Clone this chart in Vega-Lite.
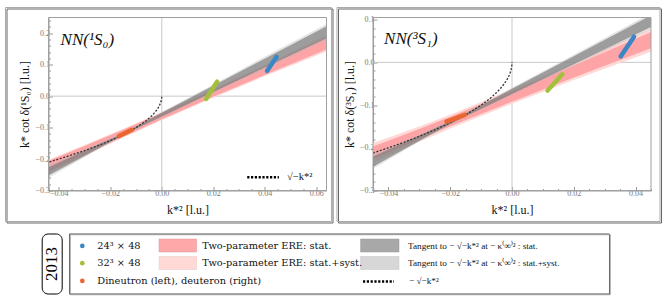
{
  "$schema": "https://vega.github.io/schema/vega-lite/v6.json",
  "padding": {"left": 4.5, "top": 6.5, "right": 0, "bottom": 0},
  "background": "white",
  "config": {
    "font": "Liberation Serif",
    "view": {"stroke": null},
    "axis": {"labelFont": "Liberation Serif", "titleFont": "Liberation Serif", "titleFontWeight": "normal", "grid": false, "zindex": 1, "domainColor": "#999", "tickColor": "#999", "labelColor": "#777", "labelFontSize": 8, "titleFontSize": 12, "titleColor": "#111", "labelOverlap": false, "labelFlush": false}
  },
  "datasets": {
    "L_frame": [
      {"k": "shadow", "x": -0.06012, "x2": 0.06653, "y": -0.40331, "y2": 0.27702},
      {"k": "frame", "x": -0.060705, "x2": 0.06594, "y": -0.39855, "y2": 0.28179},
      {"k": "plot", "x": -0.044, "x2": 0.064, "y": -0.3, "y2": 0.25}
    ],
    "R_frame": [
      {"k": "shadow", "x": -0.056169, "x2": 0.0484, "y": -0.37607, "y2": 0.1249},
      {"k": "frame", "x": -0.056655, "x2": 0.047914, "y": -0.37256, "y2": 0.12841},
      {"k": "plot", "x": -0.045, "x2": 0.045, "y": -0.3, "y2": 0.105}
    ],
    "L_zero": [
      {"x": 0, "y": -0.3, "y2": 0.25},
      {"x": -0.044, "x2": 0.064, "y": 0}
    ],
    "R_zero": [
      {"x": 0, "y": -0.3, "y2": 0.105},
      {"x": -0.045, "x2": 0.045, "y": 0}
    ],
    "L_bands": [
      {"b": "pinkL", "x": -0.044, "y": -0.244, "y2": -0.202},
      {"b": "pinkL", "x": -0.03, "y": -0.1893, "y2": -0.1553},
      {"b": "pinkL", "x": -0.0146, "y": -0.1306, "y2": -0.1026},
      {"b": "pinkL", "x": 0, "y": -0.0767, "y2": -0.0507},
      {"b": "pinkL", "x": 0.02, "y": -0.0053, "y2": 0.0227},
      {"b": "pinkL", "x": 0.04, "y": 0.0631, "y2": 0.0991},
      {"b": "pinkL", "x": 0.064, "y": 0.142, "y2": 0.194},
      {"b": "pinkS", "x": -0.044, "y": -0.240, "y2": -0.206},
      {"b": "pinkS", "x": -0.03, "y": -0.1863, "y2": -0.1583},
      {"b": "pinkS", "x": -0.0146, "y": -0.1276, "y2": -0.1056},
      {"b": "pinkS", "x": 0, "y": -0.0737, "y2": -0.0537},
      {"b": "pinkS", "x": 0.02, "y": -0.0023, "y2": 0.0197},
      {"b": "pinkS", "x": 0.04, "y": 0.0671, "y2": 0.0951},
      {"b": "pinkS", "x": 0.064, "y": 0.148, "y2": 0.188},
      {"b": "grayL", "x": -0.044, "y": -0.2594, "y2": -0.2194},
      {"b": "grayL", "x": -0.03, "y": -0.194, "y2": -0.170},
      {"b": "grayL", "x": -0.0149, "y": -0.1246, "y2": -0.1156},
      {"b": "grayL", "x": 0, "y": -0.0675, "y2": -0.0505},
      {"b": "grayL", "x": 0.02, "y": 0.009, "y2": 0.037},
      {"b": "grayL", "x": 0.04, "y": 0.085, "y2": 0.125},
      {"b": "grayL", "x": 0.064, "y": 0.1774, "y2": 0.2294},
      {"b": "grayS", "x": -0.044, "y": -0.2524, "y2": -0.2264},
      {"b": "grayS", "x": -0.03, "y": -0.19, "y2": -0.174},
      {"b": "grayS", "x": -0.0149, "y": -0.1226, "y2": -0.1176},
      {"b": "grayS", "x": 0, "y": -0.065, "y2": -0.053},
      {"b": "grayS", "x": 0.02, "y": 0.013, "y2": 0.033},
      {"b": "grayS", "x": 0.04, "y": 0.091, "y2": 0.119},
      {"b": "grayS", "x": 0.064, "y": 0.1844, "y2": 0.2224}
    ],
    "R_bands": [
      {"b": "pinkL", "x": -0.045, "y": -0.2349, "y2": -0.1889},
      {"b": "pinkL", "x": -0.03, "y": -0.1859, "y2": -0.1499},
      {"b": "pinkL", "x": -0.0188, "y": -0.1511, "y2": -0.1191},
      {"b": "pinkL", "x": 0, "y": -0.097, "y2": -0.063},
      {"b": "pinkL", "x": 0.02, "y": -0.0414, "y2": -0.0014},
      {"b": "pinkL", "x": 0.045, "y": 0.0249, "y2": 0.0789},
      {"b": "pinkS", "x": -0.045, "y": -0.2269, "y2": -0.1969},
      {"b": "pinkS", "x": -0.03, "y": -0.1799, "y2": -0.1559},
      {"b": "pinkS", "x": -0.0188, "y": -0.1461, "y2": -0.1241},
      {"b": "pinkS", "x": 0, "y": -0.092, "y2": -0.068},
      {"b": "pinkS", "x": 0.02, "y": -0.0354, "y2": -0.0074},
      {"b": "pinkS", "x": 0.045, "y": 0.0329, "y2": 0.0709},
      {"b": "grayL", "x": -0.045, "y": -0.2493, "y2": -0.2153},
      {"b": "grayL", "x": -0.03, "y": -0.1855, "y2": -0.1695},
      {"b": "grayL", "x": -0.0188, "y": -0.1406, "y2": -0.1326},
      {"b": "grayL", "x": 0, "y": -0.0765, "y2": -0.0595},
      {"b": "grayL", "x": 0.02, "y": -0.008, "y2": 0.018},
      {"b": "grayL", "x": 0.045, "y": 0.0773, "y2": 0.1153},
      {"b": "grayS", "x": -0.045, "y": -0.2443, "y2": -0.2203},
      {"b": "grayS", "x": -0.03, "y": -0.1835, "y2": -0.1715},
      {"b": "grayS", "x": -0.0188, "y": -0.1396, "y2": -0.1336},
      {"b": "grayS", "x": 0, "y": -0.074, "y2": -0.062},
      {"b": "grayS", "x": 0.02, "y": -0.0045, "y2": 0.0145},
      {"b": "grayS", "x": 0.045, "y": 0.0828, "y2": 0.1098}
    ],
    "curve": [
      {"x": 0, "y": 0},
      {"x": -0.00002, "y": -0.00447},
      {"x": -0.0001, "y": -0.01},
      {"x": -0.0003, "y": -0.01732},
      {"x": -0.0006, "y": -0.02449},
      {"x": -0.001, "y": -0.03162},
      {"x": -0.0015, "y": -0.03873},
      {"x": -0.002, "y": -0.04472},
      {"x": -0.003, "y": -0.05477},
      {"x": -0.004, "y": -0.06325},
      {"x": -0.005, "y": -0.07071},
      {"x": -0.0065, "y": -0.08062},
      {"x": -0.008, "y": -0.08944},
      {"x": -0.01, "y": -0.1},
      {"x": -0.0125, "y": -0.1118},
      {"x": -0.015, "y": -0.12247},
      {"x": -0.0175, "y": -0.13229},
      {"x": -0.02, "y": -0.14142},
      {"x": -0.025, "y": -0.15811},
      {"x": -0.03, "y": -0.17321},
      {"x": -0.035, "y": -0.18708},
      {"x": -0.04, "y": -0.2},
      {"x": -0.045, "y": -0.21213}
    ],
    "L_blobs": [
      {"s": "24", "x": 0.0409, "y": 0.080},
      {"s": "24", "x": 0.0446, "y": 0.125},
      {"s": "32", "x": 0.0172, "y": -0.009},
      {"s": "32", "x": 0.0215, "y": 0.046},
      {"s": "dn", "x": -0.0166, "y": -0.127},
      {"s": "dn", "x": -0.0116, "y": -0.107}
    ],
    "R_blobs": [
      {"s": "24", "x": 0.0352, "y": 0.014},
      {"s": "24", "x": 0.0395, "y": 0.060},
      {"s": "32", "x": 0.0115, "y": -0.066},
      {"s": "32", "x": 0.0163, "y": -0.028},
      {"s": "dn", "x": -0.0212, "y": -0.139},
      {"s": "dn", "x": -0.0153, "y": -0.123}
    ],
    "L_title": [{"x": -0.0393, "y": 0.177, "t": "NN(¹S₀)"}],
    "R_title": [{"x": -0.0414, "y": 0.0547, "t": "NN(³S₁)"}],
    "L_key": [{"x": 0.0332, "x2": 0.0455, "y": -0.2577}],
    "L_keytext": [{"x": 0.0487, "y": -0.2577, "t": "√−k*²"}],
    "year": [{"x": -6.3, "x2": 13.7, "y": 0.5, "y2": 60.5, "cx": 3.7, "cy": 30.5, "t": "2013"}],
    "leg_shadow": [{"x": 1.2, "x2": 541.2, "y": 1.2, "y2": 61.2}],
    "leg_dots": [
      {"s": "24", "x": 13.3, "y": 12.4},
      {"s": "32", "x": 13.3, "y": 29.7},
      {"s": "dn", "x": 13.3, "y": 47.4}
    ],
    "leg_sw": [
      {"k": "pinkS", "x": 90, "x2": 127.6, "y": 5.5, "y2": 18.5},
      {"k": "pinkL", "x": 90, "x2": 127.6, "y": 23, "y2": 36},
      {"k": "grayS", "x": 291.6, "x2": 330, "y": 5.5, "y2": 18.5},
      {"k": "grayL", "x": 291.6, "x2": 330, "y": 23, "y2": 36}
    ],
    "leg_dash": [{"x": 294, "x2": 325, "y": 48}],
    "leg_txt_big": [
      {"x": 28.3, "y": 12.4, "t": "24³ × 48"},
      {"x": 28.3, "y": 29.7, "t": "32³ × 48"},
      {"x": 28.3, "y": 47.4, "t": "Dineutron (left), deuteron (right)"},
      {"x": 133.3, "y": 12.4, "t": "Two-parameter ERE: stat."},
      {"x": 133.3, "y": 29.7, "t": "Two-parameter ERE: stat.+syst."}
    ],
    "leg_txt_small": [
      {"x": 339, "y": 12.4, "t": "Tangent to  − √−k*²  at  − κ⁽∞⁾² : stat."},
      {"x": 339, "y": 29.7, "t": "Tangent to  − √−k*²  at  − κ⁽∞⁾² : stat.+syst."},
      {"x": 340, "y": 47.4, "t": "− √−k*²"}
    ]
  },
  "spacing": 9,
  "vconcat": [
    {
      "spacing": 1.5,
      "hconcat": [
        {
          "width": 278,
          "height": 173,
          "encoding": {
            "x": {"field": "x", "type": "quantitative", "scale": {"domain": [-0.044, 0.064], "nice": false, "zero": false},
              "axis": {"title": "k*² [l.u.]", "titlePadding": 5, "labelPadding": 3,
                "values": [-0.04, -0.035, -0.03, -0.025, -0.02, -0.015, -0.01, -0.005, 0, 0.005, 0.01, 0.015, 0.02, 0.025, 0.03, 0.035, 0.04, 0.045, 0.05, 0.055, 0.06],
                "labelExpr": "abs(datum.value*50 - round(datum.value*50)) < 0.01 ? format(datum.value, '.2f') : ''",
                "tickSize": {"condition": {"test": "abs(datum.value*50 - round(datum.value*50)) < 0.01", "value": -4}, "value": -2}}},
            "y": {"field": "y", "type": "quantitative", "scale": {"domain": [-0.3, 0.25], "nice": false, "zero": false},
              "axis": {"title": "k* cot δ(¹S₀) [l.u.]", "titlePadding": 3, "labelPadding": 3,
                "values": [-0.3, -0.28, -0.26, -0.24, -0.22, -0.2, -0.18, -0.16, -0.14, -0.12, -0.1, -0.08, -0.06, -0.04, -0.02, 0, 0.02, 0.04, 0.06, 0.08, 0.1, 0.12, 0.14, 0.16, 0.18, 0.2, 0.22, 0.24],
                "labelExpr": "abs(datum.value*10 - round(datum.value*10)) < 0.01 ? format(datum.value, '.1f') : ''",
                "tickSize": {"condition": {"test": "abs(datum.value*10 - round(datum.value*10)) < 0.01", "value": -4}, "value": -2}}}
          },
          "layer": [
            {"data": {"name": "L_frame"}, "transform": [{"filter": "datum.k == 'shadow'"}], "mark": {"type": "rect", "fill": "transparent", "stroke": "#666", "strokeWidth": 1, "clip": false}, "encoding": {"x2": {"field": "x2"}, "y2": {"field": "y2"}}},
            {"data": {"name": "L_frame"}, "transform": [{"filter": "datum.k == 'frame'"}], "mark": {"type": "rect", "fill": "transparent", "stroke": "#aaa", "strokeWidth": 1, "clip": false}, "encoding": {"x2": {"field": "x2"}, "y2": {"field": "y2"}}},
            {"data": {"name": "L_zero"}, "mark": {"type": "rule", "color": "#c8c8c8", "strokeWidth": 1}, "encoding": {"x2": {"field": "x2"}, "y2": {"field": "y2"}}},
            {"data": {"name": "L_bands"}, "transform": [{"filter": "datum.b == 'pinkL'"}], "mark": {"type": "area", "color": "#ffd9d6", "opacity": 1, "clip": true}, "encoding": {"y2": {"field": "y2"}}},
            {"data": {"name": "L_bands"}, "transform": [{"filter": "datum.b == 'pinkS'"}], "mark": {"type": "area", "color": "#ffa4a6", "opacity": 1, "clip": true}, "encoding": {"y2": {"field": "y2"}}},
            {"data": {"name": "L_bands"}, "transform": [{"filter": "datum.b == 'grayL'"}], "mark": {"type": "area", "color": "#b8b8b8", "opacity": 0.4, "clip": true}, "encoding": {"y2": {"field": "y2"}}},
            {"data": {"name": "L_bands"}, "transform": [{"filter": "datum.b == 'grayS'"}], "mark": {"type": "area", "color": "#737373", "opacity": 0.62, "clip": true}, "encoding": {"y2": {"field": "y2"}}},
            {"data": {"name": "curve"}, "mark": {"type": "line", "color": "#333", "strokeWidth": 1.3, "strokeDash": [2, 1.6], "clip": true}, "encoding": {"order": {"field": "x", "type": "quantitative"}}},
            {"data": {"name": "L_blobs"}, "mark": {"type": "line", "strokeWidth": 4.5, "strokeCap": "round", "clip": true}, "encoding": {"detail": {"field": "s"}, "color": {"field": "s", "type": "nominal", "scale": {"domain": ["24", "32", "dn"], "range": ["#3b87c6", "#a2c03e", "#ea6631"]}, "legend": null}}},
            {"data": {"name": "L_frame"}, "transform": [{"filter": "datum.k == 'plot'"}], "mark": {"type": "rect", "fill": "transparent", "stroke": "#a0a0a0", "strokeWidth": 1, "clip": false}, "encoding": {"x2": {"field": "x2"}, "y2": {"field": "y2"}}},
            {"data": {"name": "L_title"}, "mark": {"type": "text", "align": "left", "baseline": "middle", "fontSize": 17, "fontStyle": "italic", "font": "Liberation Serif", "color": "#111"}, "encoding": {"text": {"field": "t"}}},
            {"data": {"name": "L_key"}, "mark": {"type": "rule", "color": "#000", "strokeWidth": 2.6, "strokeDash": [2.2, 1.6]}, "encoding": {"x2": {"field": "x2"}}},
            {"data": {"name": "L_keytext"}, "mark": {"type": "text", "align": "left", "baseline": "middle", "fontSize": 10.5, "font": "Liberation Serif", "color": "#111"}, "encoding": {"text": {"field": "t"}}}
          ]
        },
        {
          "width": 278,
          "height": 173,
          "encoding": {
            "x": {"field": "x", "type": "quantitative", "scale": {"domain": [-0.045, 0.045], "nice": false, "zero": false},
              "axis": {"title": "k*² [l.u.]", "titlePadding": 5, "labelPadding": 3,
                "values": [-0.045, -0.04, -0.035, -0.03, -0.025, -0.02, -0.015, -0.01, -0.005, 0, 0.005, 0.01, 0.015, 0.02, 0.025, 0.03, 0.035, 0.04, 0.045],
                "labelExpr": "abs(datum.value*50 - round(datum.value*50)) < 0.01 ? format(datum.value, '.2f') : ''",
                "tickSize": {"condition": {"test": "abs(datum.value*50 - round(datum.value*50)) < 0.01", "value": -4}, "value": -2}}},
            "y": {"field": "y", "type": "quantitative", "scale": {"domain": [-0.3, 0.105], "nice": false, "zero": false},
              "axis": {"title": "k* cot δ(³S₁) [l.u.]", "titlePadding": 3, "labelPadding": 3,
                "values": [-0.3, -0.28, -0.26, -0.24, -0.22, -0.2, -0.18, -0.16, -0.14, -0.12, -0.1, -0.08, -0.06, -0.04, -0.02, 0, 0.02, 0.04, 0.06, 0.08, 0.1],
                "labelExpr": "abs(datum.value*10 - round(datum.value*10)) < 0.01 ? format(datum.value, '.1f') : ''",
                "tickSize": {"condition": {"test": "abs(datum.value*10 - round(datum.value*10)) < 0.01", "value": -4}, "value": -2}}}
          },
          "layer": [
            {"data": {"name": "R_frame"}, "transform": [{"filter": "datum.k == 'shadow'"}], "mark": {"type": "rect", "fill": "transparent", "stroke": "#666", "strokeWidth": 1, "clip": false}, "encoding": {"x2": {"field": "x2"}, "y2": {"field": "y2"}}},
            {"data": {"name": "R_frame"}, "transform": [{"filter": "datum.k == 'frame'"}], "mark": {"type": "rect", "fill": "transparent", "stroke": "#aaa", "strokeWidth": 1, "clip": false}, "encoding": {"x2": {"field": "x2"}, "y2": {"field": "y2"}}},
            {"data": {"name": "R_zero"}, "mark": {"type": "rule", "color": "#c8c8c8", "strokeWidth": 1}, "encoding": {"x2": {"field": "x2"}, "y2": {"field": "y2"}}},
            {"data": {"name": "R_bands"}, "transform": [{"filter": "datum.b == 'pinkL'"}], "mark": {"type": "area", "color": "#ffd9d6", "opacity": 1, "clip": true}, "encoding": {"y2": {"field": "y2"}}},
            {"data": {"name": "R_bands"}, "transform": [{"filter": "datum.b == 'pinkS'"}], "mark": {"type": "area", "color": "#ffa4a6", "opacity": 1, "clip": true}, "encoding": {"y2": {"field": "y2"}}},
            {"data": {"name": "R_bands"}, "transform": [{"filter": "datum.b == 'grayL'"}], "mark": {"type": "area", "color": "#b8b8b8", "opacity": 0.4, "clip": true}, "encoding": {"y2": {"field": "y2"}}},
            {"data": {"name": "R_bands"}, "transform": [{"filter": "datum.b == 'grayS'"}], "mark": {"type": "area", "color": "#737373", "opacity": 0.62, "clip": true}, "encoding": {"y2": {"field": "y2"}}},
            {"data": {"name": "curve"}, "mark": {"type": "line", "color": "#333", "strokeWidth": 1.3, "strokeDash": [2, 1.6], "clip": true}, "encoding": {"order": {"field": "x", "type": "quantitative"}}},
            {"data": {"name": "R_blobs"}, "mark": {"type": "line", "strokeWidth": 4.5, "strokeCap": "round", "clip": true}, "encoding": {"detail": {"field": "s"}, "color": {"field": "s", "type": "nominal", "scale": {"domain": ["24", "32", "dn"], "range": ["#3b87c6", "#a2c03e", "#ea6631"]}, "legend": null}}},
            {"data": {"name": "R_frame"}, "transform": [{"filter": "datum.k == 'plot'"}], "mark": {"type": "rect", "fill": "transparent", "stroke": "#a0a0a0", "strokeWidth": 1, "clip": false}, "encoding": {"x2": {"field": "x2"}, "y2": {"field": "y2"}}},
            {"data": {"name": "R_title"}, "mark": {"type": "text", "align": "left", "baseline": "middle", "fontSize": 17, "fontStyle": "italic", "font": "Liberation Serif", "color": "#111"}, "encoding": {"text": {"field": "t"}}}
          ]
        }
      ]
    },
    {
      "spacing": 4.5,
      "hconcat": [
        {
          "width": 14,
          "height": 61,
          "data": {"name": "year"},
          "layer": [
            {"mark": {"type": "rect", "fill": "white", "stroke": "#000", "strokeWidth": 1, "cornerRadius": 6, "clip": false},
             "encoding": {
               "x": {"field": "x", "type": "quantitative", "scale": {"domain": [0, 14], "nice": false, "zero": false}, "axis": null},
               "x2": {"field": "x2"},
               "y": {"field": "y", "type": "quantitative", "scale": {"domain": [0, 61], "nice": false, "zero": false, "reverse": true}, "axis": null},
               "y2": {"field": "y2"}}},
            {"mark": {"type": "text", "angle": 270, "align": "center", "baseline": "middle", "fontSize": 17, "font": "Liberation Serif", "color": "#000", "clip": false},
             "encoding": {
               "x": {"field": "cx", "type": "quantitative", "scale": {"domain": [0, 14], "nice": false, "zero": false}, "axis": null},
               "y": {"field": "cy", "type": "quantitative", "scale": {"domain": [0, 61], "nice": false, "zero": false, "reverse": true}, "axis": null},
               "text": {"field": "t"}}}
          ]
        },
        {
          "width": 540,
          "height": 60,
          "view": {"stroke": "#555", "strokeWidth": 1},
          "encoding": {
            "x": {"field": "x", "type": "quantitative", "scale": {"domain": [0, 540], "nice": false, "zero": false}, "axis": null},
            "y": {"field": "y", "type": "quantitative", "scale": {"domain": [0, 60], "nice": false, "zero": false, "reverse": true}, "axis": null}
          },
          "layer": [
            {"data": {"name": "leg_shadow"}, "mark": {"type": "rect", "fill": "transparent", "stroke": "#999", "strokeWidth": 1, "clip": false}, "encoding": {"x2": {"field": "x2"}, "y2": {"field": "y2"}}},
            {"data": {"name": "leg_sw"}, "transform": [{"filter": "datum.k == 'pinkS'"}], "mark": {"type": "rect", "color": "#ffa8aa", "stroke": "#d99", "strokeWidth": 0.5}, "encoding": {"x2": {"field": "x2"}, "y2": {"field": "y2"}}},
            {"data": {"name": "leg_sw"}, "transform": [{"filter": "datum.k == 'pinkL'"}], "mark": {"type": "rect", "color": "#ffd9d6", "stroke": "#e8c4c4", "strokeWidth": 0.5}, "encoding": {"x2": {"field": "x2"}, "y2": {"field": "y2"}}},
            {"data": {"name": "leg_sw"}, "transform": [{"filter": "datum.k == 'grayS'"}], "mark": {"type": "rect", "color": "#a8a8a8", "stroke": "#999", "strokeWidth": 0.5}, "encoding": {"x2": {"field": "x2"}, "y2": {"field": "y2"}}},
            {"data": {"name": "leg_sw"}, "transform": [{"filter": "datum.k == 'grayL'"}], "mark": {"type": "rect", "color": "#d7d7d7", "stroke": "#c4c4c4", "strokeWidth": 0.5}, "encoding": {"x2": {"field": "x2"}, "y2": {"field": "y2"}}},
            {"data": {"name": "leg_dots"}, "mark": {"type": "circle", "size": 22, "opacity": 1}, "encoding": {"color": {"field": "s", "type": "nominal", "scale": {"domain": ["24", "32", "dn"], "range": ["#3b87c6", "#a2c03e", "#ea6631"]}, "legend": null}}},
            {"data": {"name": "leg_dash"}, "mark": {"type": "rule", "color": "#000", "strokeWidth": 2.4, "strokeDash": [2.2, 1.6]}, "encoding": {"x2": {"field": "x2"}}},
            {"data": {"name": "leg_txt_big"}, "mark": {"type": "text", "align": "left", "baseline": "middle", "fontSize": 9.8, "font": "DejaVu Serif", "color": "#111"}, "encoding": {"text": {"field": "t"}}},
            {"data": {"name": "leg_txt_small"}, "mark": {"type": "text", "align": "left", "baseline": "middle", "fontSize": 9.2, "font": "Liberation Serif", "color": "#111"}, "encoding": {"text": {"field": "t"}}}
          ]
        }
      ]
    }
  ]
}
